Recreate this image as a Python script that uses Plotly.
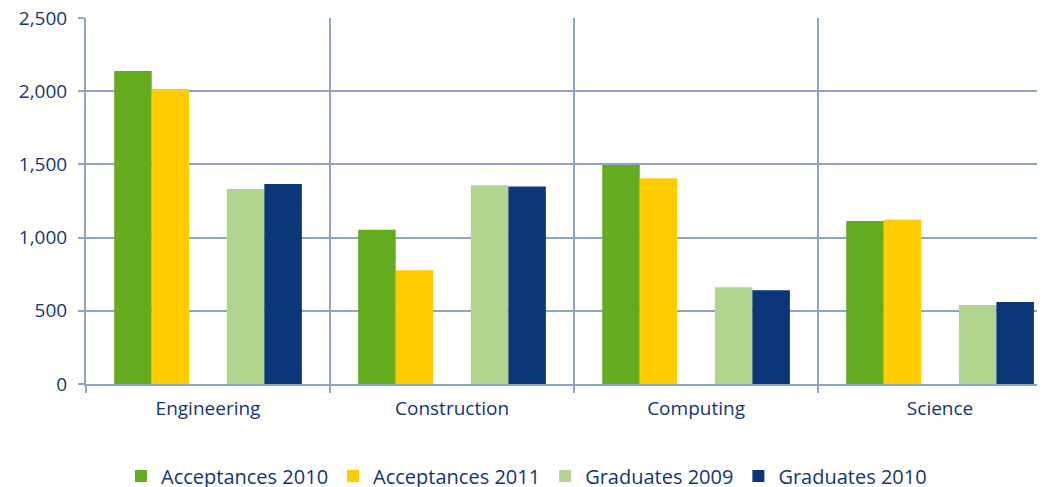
import plotly.graph_objects as go

categories = ["Engineering", "Construction", "Computing", "Science"]
acceptances_2010 = [2138, 1054, 1497, 1113]
acceptances_2011 = [2015, 777, 1406, 1122]
graduates_2009 = [1333, 1358, 661, 540]
graduates_2010 = [1366, 1350, 640, 560]

series_names = ["Acceptances 2010", "Acceptances 2011", "Graduates 2009", "Graduates 2010"]
colors = ["#64AB1F", "#FFCC00", "#B1D48F", "#0B3678"]

TEXT = "#133574"
GRID = "#8FA3C4"
FONT = "Open Sans"

fig = go.Figure()
fig.add_trace(go.Bar(x=categories, y=acceptances_2010, name=series_names[0], marker_color=colors[0]))
fig.add_trace(go.Bar(x=categories, y=acceptances_2011, name=series_names[1], marker_color=colors[1]))
# empty slot between the two groups of series
fig.add_trace(go.Bar(x=categories, y=[None] * len(categories), name="", showlegend=False, hoverinfo="skip"))
fig.add_trace(go.Bar(x=categories, y=graduates_2009, name=series_names[2], marker_color=colors[2]))
fig.add_trace(go.Bar(x=categories, y=graduates_2010, name=series_names[3], marker_color=colors[3]))

fig.update_traces(marker_line_width=0)

# page body has an 8px margin, so the figure is sized to fit the window
fig.update_layout(
    width=1037,
    height=479,
    margin=dict(l=78, r=0, t=10, b=103, pad=0, autoexpand=False),
    plot_bgcolor="white",
    paper_bgcolor="white",
    barmode="group",
    bargap=1.5 / 6.5,
    bargroupgap=0,
    font=dict(family=FONT, size=19, color=TEXT),
    showlegend=True,
    legend=dict(
        orientation="h",
        xref="container",
        yref="container",
        x=0.5,
        xanchor="center",
        y=0.023,
        yanchor="middle",
        font=dict(family=FONT, size=20, color=TEXT),
        traceorder="normal",
        itemwidth=30,
    ),
)

fig.update_xaxes(
    type="category",
    range=[-0.5, 3.43],
    tickson="boundaries",
    showgrid=True,
    gridcolor=GRID,
    gridwidth=2,
    ticks="outside",
    ticklen=7,
    tickwidth=2,
    tickcolor=GRID,
    showline=True,
    linecolor=GRID,
    linewidth=2,
    ticklabelstandoff=6,
    tickfont=dict(family=FONT, size=19, color=TEXT),
)
fig.update_yaxes(
    range=[0, 2501],
    tickvals=[0, 500, 1000, 1500, 2000, 2500],
    tickformat=",d",
    showgrid=True,
    gridcolor=GRID,
    gridwidth=2,
    ticks="outside",
    ticklen=6,
    tickwidth=2,
    tickcolor=GRID,
    showline=True,
    linecolor=GRID,
    linewidth=2,
    zeroline=False,
    ticklabelstandoff=7,
    ticklabeloverflow="allow",
    tickfont=dict(family=FONT, size=19, color=TEXT),
)

fig.write_html("out.html")
